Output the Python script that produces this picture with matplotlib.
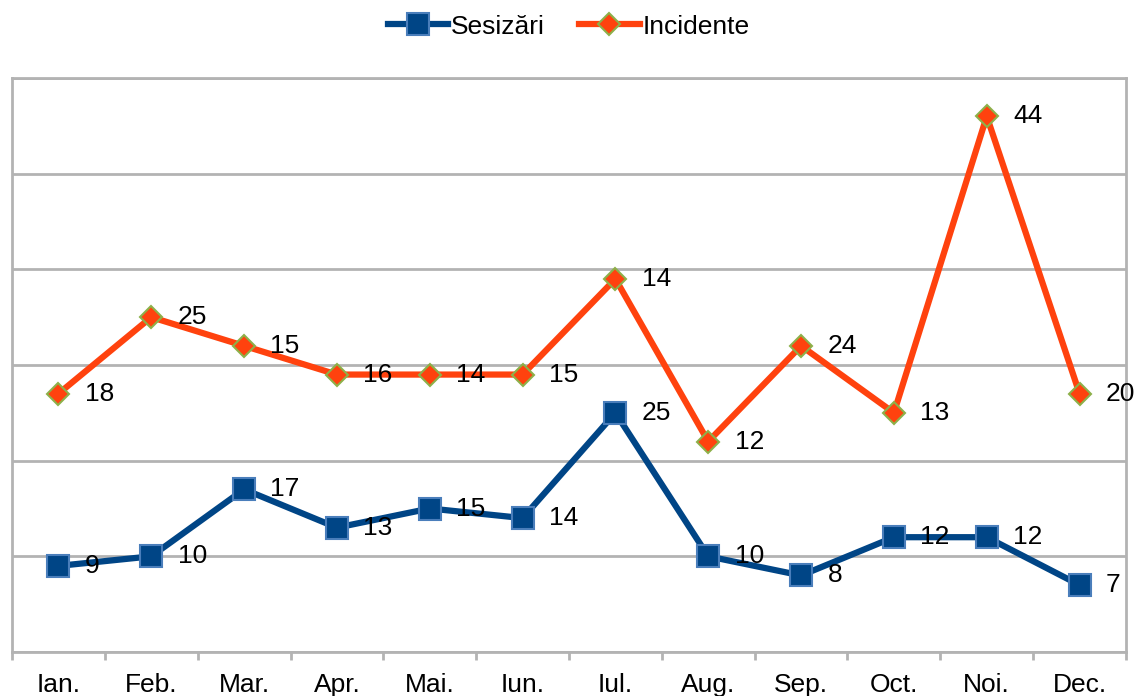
import matplotlib.pyplot as plt
import numpy as np

plt.rcParams["font.family"] = ["Liberation Sans", "DejaVu Sans"]

luni = ["Ian.", "Feb.", "Mar.", "Apr.", "Mai.", "Iun.", "Iul.", "Aug.", "Sep.", "Oct.", "Noi.", "Dec."]
sesizari = [9, 10, 17, 13, 15, 14, 25, 10, 8, 12, 12, 7]
incidente = [18, 25, 15, 16, 14, 15, 14, 12, 24, 13, 44, 20]

# stacked line chart: second series sits on top of the first
x = np.arange(len(luni))
sesizari_y = np.array(sesizari)
incidente_y = sesizari_y + np.array(incidente)

grid_col = "#b3b3b3"

fig = plt.figure(figsize=(11.37, 6.96), dpi=100)
ax = fig.add_axes([12 / 1137, 44 / 696, 1114 / 1137, 574 / 696])

ax.plot(x, sesizari_y, color="#004586", lw=4.5, marker="s", ms=16,
        mfc="#004586", mec="#4a7ebb", mew=1.5, label="Sesizări", zorder=3)
ax.plot(x, incidente_y, color="#ff420e", lw=4.5, marker="D", ms=11.5,
        mfc="#ff420e", mec="#8db04a", mew=1.5, label="Incidente", zorder=3)

for xi, yi, v in zip(x, sesizari_y, sesizari):
    ax.annotate(str(v), (xi, yi), xytext=(19, 0), textcoords="offset points",
                va="center", ha="left", fontsize=19, zorder=4)
for xi, yi, v in zip(x, incidente_y, incidente):
    ax.annotate(str(v), (xi, yi), xytext=(19, 0), textcoords="offset points",
                va="center", ha="left", fontsize=19, zorder=4)

ax.set_xlim(-0.5, len(luni) - 0.5)
ax.set_ylim(0, 60)
ax.set_yticks(np.arange(0, 61, 10))
ax.yaxis.grid(True, color=grid_col, lw=2)
ax.tick_params(axis="y", left=False, labelleft=False)

ax.set_xticks(x)
ax.set_xticklabels(luni, fontsize=19)
ax.tick_params(axis="x", which="major", length=0, pad=15)
ax.set_xticks(np.arange(-0.5, len(luni), 1), minor=True)
ax.tick_params(axis="x", which="minor", length=6, width=2, color=grid_col)

for s in ax.spines.values():
    s.set_color(grid_col)
    s.set_linewidth(2)

fig.legend(loc="upper center", bbox_to_anchor=(0.5, 1.013), ncol=2, frameon=False,
           fontsize=19, handlelength=2.3, handletextpad=0.1, columnspacing=1.3)

fig.savefig("out.png", dpi=100)
